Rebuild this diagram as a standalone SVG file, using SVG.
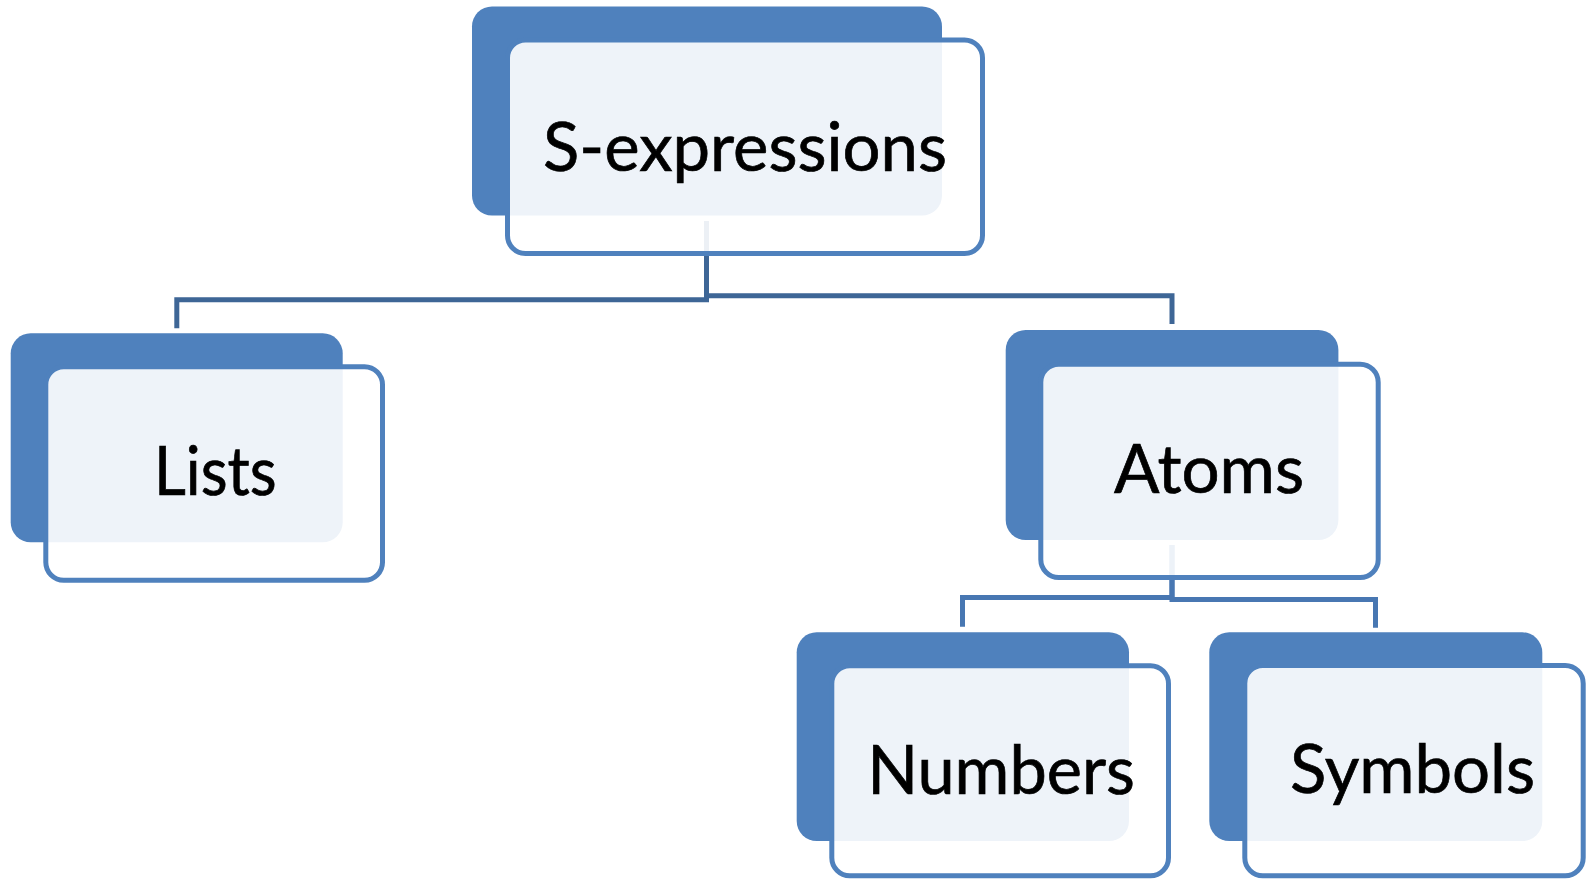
<svg xmlns="http://www.w3.org/2000/svg" width="1587" height="879" viewBox="0 0 1587 879">
  <style>
    .back { fill: #4F81BD; }
    .front { fill: #FFFFFF; fill-opacity: 0.9; stroke: #4F81BD; stroke-width: 5; }
    .lbl { font-family: "Lato", "Liberation Sans", sans-serif; font-size: 68px; fill: #000000; stroke: #000000; stroke-width: 0.7; text-anchor: middle; }
    .conn { fill: none; stroke-width: 5; stroke-linejoin: miter; stroke-linecap: butt; }
    .lvl1 { stroke: #3E6696; }
    .lvl2 { stroke: #4877B2; }
  </style>
  <rect width="1587" height="879" fill="#FFFFFF"/>

  <!-- connectors: drawn first so the translucent node faces sit over them -->
  <g id="connectors">
    <path class="conn lvl1" d="M706.5,221 V299.8 H176.8 V328.3"/>
    <path class="conn lvl1" d="M706.5,221 V295.8 H1172 V324"/>
    <path class="conn lvl2" d="M1172,545 V597.5 H962.5 V626.7"/>
    <path class="conn lvl2" d="M1172,545 V599.5 H1375.5 V627.7"/>
  </g>

  <g id="node-sexpressions">
    <rect class="back" x="472" y="6.5" width="470" height="209" rx="20"/>
    <rect class="front" x="507.5" y="40" width="475" height="213.5" rx="18"/>
    <text class="lbl" x="745" y="170.5" textLength="404" lengthAdjust="spacingAndGlyphs">S-expressions</text>
  </g>

  <g id="node-lists">
    <rect class="back" x="10.7" y="333.3" width="332" height="209" rx="20"/>
    <rect class="front" x="45.8" y="366.8" width="336.7" height="213.4" rx="18"/>
    <text class="lbl" x="215.3" y="495" textLength="122.7" lengthAdjust="spacingAndGlyphs">Lists</text>
  </g>

  <g id="node-atoms">
    <rect class="back" x="1005.7" y="330" width="332.7" height="210" rx="20"/>
    <rect class="front" x="1040.8" y="364.2" width="337.4" height="213.3" rx="18"/>
    <text class="lbl" x="1209" y="492.7" textLength="190" lengthAdjust="spacingAndGlyphs">Atoms</text>
  </g>

  <g id="node-numbers">
    <rect class="back" x="796.7" y="632.3" width="332.3" height="208.7" rx="20"/>
    <rect class="front" x="831.8" y="665.8" width="336.7" height="210" rx="18"/>
    <text class="lbl" x="1001" y="794" textLength="267.7" lengthAdjust="spacingAndGlyphs">Numbers</text>
  </g>

  <g id="node-symbols">
    <rect class="back" x="1209.3" y="632.3" width="333" height="208.7" rx="20"/>
    <rect class="front" x="1244.8" y="665.5" width="338.4" height="210.3" rx="18"/>
    <text class="lbl" x="1412.5" y="793.3" textLength="245" lengthAdjust="spacingAndGlyphs">Symbols</text>
  </g>
</svg>
